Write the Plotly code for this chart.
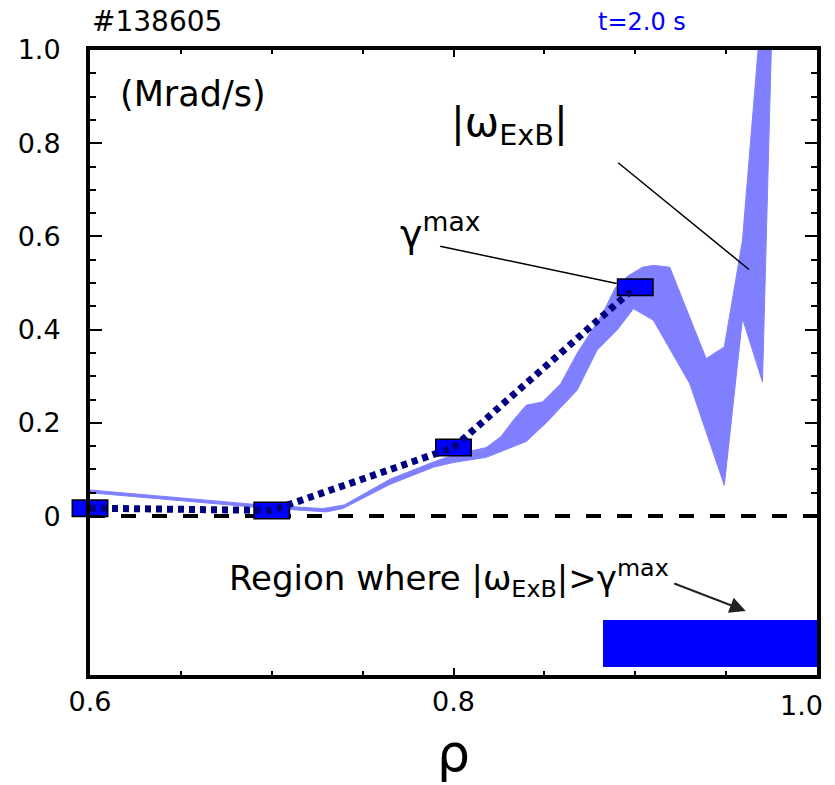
import plotly.graph_objects as go

# |omega_ExB| uncertainty band: upper and lower edges vs normalized radius
rho_upper = [0.600, 0.691, 0.712, 0.728, 0.740, 0.765, 0.789, 0.800, 0.818, 0.826,
             0.833, 0.840, 0.849, 0.859, 0.868, 0.882, 0.889, 0.896, 0.904, 0.910,
             0.919, 0.939, 0.949, 0.959, 0.968]
w_upper = [0.056, 0.025, 0.020, 0.016, 0.024, 0.079, 0.116, 0.131, 0.147, 0.170,
           0.206, 0.238, 0.245, 0.284, 0.349, 0.434, 0.490, 0.515, 0.534, 0.538,
           0.534, 0.338, 0.363, 0.592, 1.020]
rho_lower = [0.600, 0.691, 0.712, 0.730, 0.739, 0.765, 0.789, 0.800, 0.818, 0.840,
             0.851, 0.868, 0.879, 0.890, 0.899, 0.910, 0.930, 0.949, 0.959, 0.970,
             0.975]
w_lower = [0.050, 0.019, 0.013, 0.009, 0.016, 0.068, 0.105, 0.115, 0.126, 0.160,
           0.200, 0.270, 0.356, 0.399, 0.445, 0.420, 0.284, 0.066, 0.424, 0.288,
           1.020]

# maximum linear growth rate gamma_max
rho_gamma = [0.6, 0.7, 0.8, 0.9]
gamma_max = [0.017, 0.012, 0.147, 0.491]

# radial region where |omega_ExB| > gamma_max
region_lo = 0.882
region_hi = 1.0
region_y = -0.2735
region_h = 0.101

x_ticks = [0.6, 0.8, 1.0]
x_ticktext = ["0.6", "0.8", ""]   # the edge label is placed separately so it stays inside the page
x_edge_label = "1.0"
x_minor = [0.65, 0.7, 0.75, 0.85, 0.9, 0.95]
y_ticks = [0, 0.2, 0.4, 0.6, 0.8, 1.0]
y_ticktext = ["0", "0.2", "0.4", "0.6", "0.8", "1.0"]
y_minor = [0.05, 0.1, 0.15, 0.25, 0.3, 0.35, 0.45, 0.5, 0.55,
           0.65, 0.7, 0.75, 0.85, 0.9, 0.95]

FONT = "DejaVu Sans"
BAND = "#8080FF"
BLUE = "#0000FF"
NAVY = "#000080"

fig = go.Figure()

# zero reference line
fig.add_trace(go.Scatter(
    x=[x_ticks[0], x_ticks[-1]], y=[0, 0], mode="lines",
    line=dict(color="black", width=4, dash="15px,16px"),
    hoverinfo="skip", showlegend=False))

# band polygon: upper edge left->right, lower edge right->left
fig.add_trace(go.Scatter(
    x=rho_upper + rho_lower[::-1], y=w_upper + w_lower[::-1],
    mode="lines", fill="toself", fillcolor=BAND,
    line=dict(color=BAND, width=1), showlegend=False))

# region bar
fig.add_trace(go.Bar(
    orientation="h", base=[region_lo], x=[region_hi - region_lo],
    y=[region_y], width=[region_h], marker=dict(color=BLUE, line=dict(width=0)),
    showlegend=False))

# gamma_max markers: black outline then blue body (rectangular line-ew symbols)
fig.add_trace(go.Scatter(
    x=rho_gamma, y=gamma_max, mode="markers", cliponaxis=False,
    marker=dict(symbol="line-ew", size=26.4, color="black",
                line=dict(color="black", width=18)),
    showlegend=False))
fig.add_trace(go.Scatter(
    x=rho_gamma, y=gamma_max, mode="markers", cliponaxis=False,
    marker=dict(symbol="line-ew", size=24.2, color=BLUE,
                line=dict(color=BLUE, width=15)),
    showlegend=False))

# dotted gamma_max trend
fig.add_trace(go.Scatter(
    x=rho_gamma, y=gamma_max, mode="lines", cliponaxis=False,
    line=dict(color=NAVY, width=7, dash="6px,5px"), showlegend=False))

# leader lines
fig.add_shape(type="line", xref="x", yref="y", x0=0.8906, y0=0.758, x1=0.9626, y1=0.529,
              line=dict(color="black", width=1.5))
fig.add_shape(type="line", xref="x", yref="y", x0=0.7926, y0=0.579, x1=0.8898, y1=0.499,
              line=dict(color="black", width=1.5))

ann = [
    dict(text="#138605", xref="paper", yref="paper", x=0, y=1.045,
         xanchor="left", yanchor="middle", font=dict(size=28, color="black")),
    dict(text="t=2.0 s", xref="x", yref="paper", x=0.9037, y=1.045,
         xanchor="center", yanchor="middle", font=dict(size=24, color=BLUE)),
    dict(text="(Mrad/s)", xref="x", yref="y", x=0.6154, y=0.905,
         xanchor="left", yanchor="middle", font=dict(size=35, color="black")),
    dict(text="|ω<sub>ExB</sub>|", xref="x", yref="y", x=0.831, y=0.84,
         xanchor="center", yanchor="middle", font=dict(size=41, color="black")),
    dict(text="γ<sup>max</sup>", xref="x", yref="y", x=0.7926, y=0.612,
         xanchor="center", yanchor="middle", font=dict(size=38, color="black")),
    dict(text="Region where |ω<sub>ExB</sub>|>γ<sup>max</sup>", xref="x", yref="y",
         x=0.7975, y=-0.133, xanchor="center", yanchor="middle",
         font=dict(size=34, color="black")),
    dict(text="", xref="x", yref="y", x=0.9608, y=-0.2036, ax=-73, ay=-28,
         showarrow=True, arrowhead=2, arrowsize=1.6, arrowwidth=2, arrowcolor="#222222"),
    dict(text=x_edge_label, xref="x", yref="paper", x=x_ticks[-1], y=0, xshift=8,
         yshift=-13, xanchor="right", yanchor="top",
         font=dict(size=27, color="black")),
    dict(text="ρ", xref="paper", yref="paper", x=0.5, y=-0.124,
         xanchor="center", yanchor="middle", font=dict(size=52, color="black")),
]
for a in ann:
    a.setdefault("showarrow", False)
    fig.add_annotation(**a)

fig.update_xaxes(
    range=[0.6, 1.0], tickmode="array", tickvals=x_ticks, ticktext=x_ticktext,
    ticks="inside", ticklen=7, tickwidth=1.5, tickcolor="black",
    showline=True, linewidth=4, linecolor="black", mirror="allticks",
    showgrid=False, zeroline=False, ticklabelstandoff=0, automargin=False,
    tickfont=dict(size=27, color="black", family=FONT),
    minor=dict(tickmode="array", tickvals=x_minor, ticks="inside", ticklen=4,
               tickwidth=1.5, tickcolor="black", showgrid=False))
fig.update_yaxes(
    range=[-0.341, 1.0], tickmode="array", tickvals=y_ticks, ticktext=y_ticktext,
    ticks="inside", ticklen=12, tickwidth=1.5, tickcolor="black",
    showline=True, linewidth=4, linecolor="black", mirror="allticks",
    showgrid=False, zeroline=False, ticklabelstandoff=20, automargin=False,
    tickfont=dict(size=27, color="black", family=FONT),
    minor=dict(tickmode="array", tickvals=y_minor, ticks="inside", ticklen=6,
               tickwidth=1.5, tickcolor="black", showgrid=False))

fig.update_layout(
    width=835, height=785, margin=dict(l=90, r=18, t=50, b=110),
    paper_bgcolor="white", plot_bgcolor="white",
    font=dict(family=FONT, color="black"), showlegend=False, bargap=0)

fig.write_html("out.html")
